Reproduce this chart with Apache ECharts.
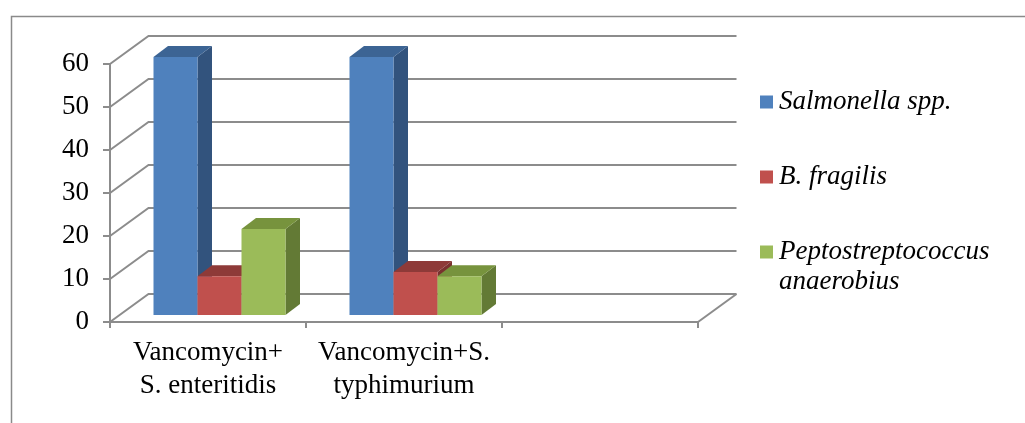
<!DOCTYPE html>
<html>
<head>
<meta charset="utf-8">
<script src="https://cdn.jsdelivr.net/npm/echarts@6/dist/echarts.min.js"></script>
<style>
  html, body { margin: 0; padding: 0; background: #ffffff; }
  #chart { width: 1025px; height: 423px; }
</style>
</head>
<body>
<div id="chart"></div>
<script>
// ---- data ----
const categories = ['Vancomycin+\nS. enteritidis', 'Vancomycin+S.\ntyphimurium', ''];
const seriesNames = ['Salmonella spp.', 'B. fragilis', 'Peptostreptococcus\nanaerobius'];
const salmonella = [60, 60, null];
const bFragilis = [9, 10, null];
const peptostreptococcus = [20, 9, null];
const yTicks = [0, 10, 20, 30, 40, 50, 60];

// ---- styling ----
const FONT = '"Liberation Serif", "Times New Roman", serif';
const FONT_SIZE = 27;
const LINE = '#8c8c8c';
const faces = [
  { front: '#4F81BD', top: '#3C6494', side: '#32537D' },
  { front: '#C0504D', top: '#8E3A38', side: '#7A312F' },
  { front: '#9BBB59', top: '#77933D', side: '#637A35' }
];
// oblique projection offsets
const WALL_DX = 38.5, WALL_DY = -28;    // front floor edge -> back wall
const PLANE_DX = 11.5, PLANE_DY = -7;   // front floor edge -> bar front faces
const BAR_DX = 14.5, BAR_DY = -11;      // bar depth
const BAR_SHARE = 0.2245;               // bar width as a share of a category

function frameItem(params, api) {
  const v = api.value(1);
  const c = api.coord([0, v]);
  const catW = api.size([1, 0])[0];
  const xl = c[0] - catW / 2;
  const xr = xl + catW * categories.length;
  const y = c[1];
  const children = [{
    type: 'polyline',
    shape: { points: [[xl, y], [xl + WALL_DX, y + WALL_DY], [xr + WALL_DX, y + WALL_DY]] },
    style: { stroke: LINE, lineWidth: 2, fill: null }
  }];
  if (v === 0) {
    children.push({
      type: 'line',
      shape: { x1: xr, y1: y, x2: xr + WALL_DX, y2: y + WALL_DY },
      style: { stroke: LINE, lineWidth: 2 }
    });
  }
  return { type: 'group', children: children };
}

function barItem(k) {
  const f = faces[k];
  return function (params, api) {
    const v = api.value(1);
    if (v == null || isNaN(v)) return null;
    const i = api.value(0);
    const base = api.coord([i, 0]);
    const tip = api.coord([i, v]);
    const catW = api.size([1, 0])[0];
    const w = catW * BAR_SHARE;
    const x0 = base[0] - 1.5 * w + k * w + PLANE_DX;
    const x1 = x0 + w;
    const yb = base[1] + PLANE_DY;
    const yt = tip[1] + PLANE_DY;
    return {
      type: 'group',
      children: [
        { type: 'polygon',
          shape: { points: [[x1, yb], [x1 + BAR_DX, yb + BAR_DY], [x1 + BAR_DX, yt + BAR_DY], [x1, yt]] },
          style: { fill: f.side } },
        { type: 'polygon',
          shape: { points: [[x0, yt], [x1, yt], [x1 + BAR_DX, yt + BAR_DY], [x0 + BAR_DX, yt + BAR_DY]] },
          style: { fill: f.top } },
        { type: 'rect',
          shape: { x: x0, y: yt, width: w, height: yb - yt },
          style: { fill: f.front } }
      ]
    };
  };
}

const seriesValues = [salmonella, bFragilis, peptostreptococcus];

// legend drawn as graphic so the wrapped name keeps its swatch on the first line
const legendGraphics = [];
seriesNames.forEach(function (name, k) {
  const cy = 102 + k * 75;
  legendGraphics.push({
    type: 'rect', left: 760, top: cy - 6.5,
    shape: { x: 0, y: 0, width: 13, height: 13 },
    style: { fill: faces[k].front }
  });
  legendGraphics.push({
    type: 'text', x: 779, y: cy - 15,
    style: {
      text: name, fill: '#000', fontStyle: 'italic', fontSize: FONT_SIZE,
      fontFamily: FONT, lineHeight: 30, verticalAlign: 'top', align: 'left'
    }
  });
});

const chart = echarts.init(document.getElementById('chart'), null, { renderer: 'canvas' });
chart.setOption({
  animation: false,
  backgroundColor: '#ffffff',
  grid: { left: 110, right: 327, top: 64, bottom: 101 },
  xAxis: {
    type: 'category',
    data: categories,
    boundaryGap: true,
    axisLine: { show: true, lineStyle: { color: LINE, width: 2 } },
    axisTick: { show: true, length: 6, interval: 0, lineStyle: { color: LINE, width: 2 } },
    axisLabel: {
      interval: 0, margin: 14, color: '#000', fontSize: FONT_SIZE, lineHeight: 33,
      fontFamily: FONT
    },
    splitLine: { show: false }
  },
  yAxis: {
    type: 'value',
    min: 0, max: 60, interval: 10,
    axisLine: { show: true, lineStyle: { color: LINE, width: 2 } },
    axisTick: { show: true, length: 7, lineStyle: { color: LINE, width: 2 } },
    axisLabel: { margin: 21, color: '#000', fontSize: FONT_SIZE, fontFamily: FONT },
    splitLine: { show: false }
  },
  graphic: [
    { type: 'rect', left: 9, top: 14,
      shape: { x: 0, y: 0, width: 1100, height: 500 },
      style: { fill: null, stroke: '#8a8a8a', lineWidth: 1.5 }, silent: true }
  ].concat(legendGraphics),
  series: [
    { type: 'custom', name: 'frame', z: 1, silent: true,
      renderItem: frameItem,
      data: yTicks.map(function (v) { return [0, v]; }) }
  ].concat(seriesValues.map(function (vals, k) {
    return {
      type: 'custom', name: seriesNames[k], z: 2 + k,
      renderItem: barItem(k),
      data: vals.map(function (v, i) { return [i, v]; })
    };
  }))
});
</script>
</body>
</html>
